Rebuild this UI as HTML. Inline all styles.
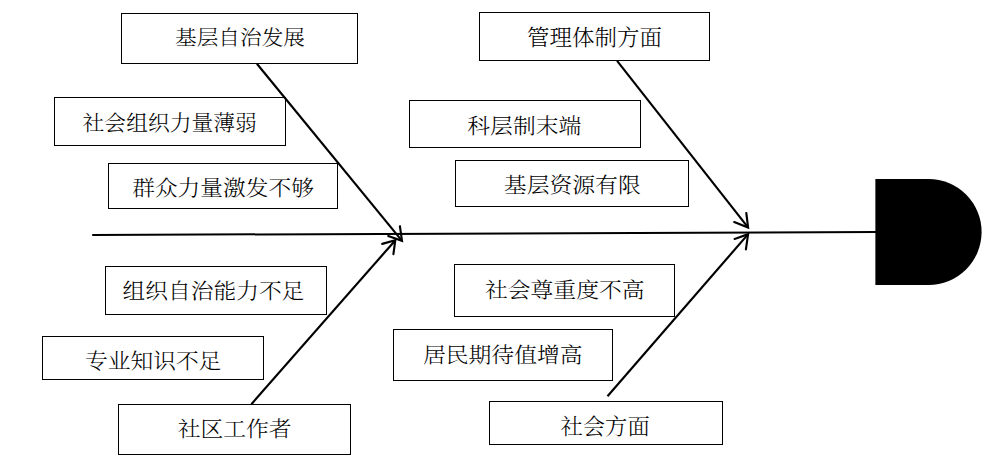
<!DOCTYPE html>
<html lang="zh-CN">
<head>
<meta charset="utf-8">
<title>鱼骨图</title>
<style>
html,body{margin:0;padding:0;background:#fff;}
body{width:995px;height:459px;overflow:hidden;}
svg{display:block;}
text{font-family:"Liberation Serif","Noto Serif CJK SC",serif;font-weight:300;fill:#000;}
</style>
</head>
<body>
<svg width="995" height="459" viewBox="0 0 995 459">
<rect x="0" y="0" width="995" height="459" fill="#fff"/>

<g fill="#fff" stroke="#000" stroke-width="1" shape-rendering="crispEdges">
<rect x="121.5" y="13.5" width="236" height="50"/>
<rect x="54.5" y="97.5" width="231" height="48"/>
<rect x="108.5" y="163.5" width="229" height="45"/>
<rect x="479.5" y="12.5" width="230" height="48"/>
<rect x="409.5" y="100.5" width="231" height="47"/>
<rect x="455.5" y="160.5" width="233" height="46"/>
<rect x="105.5" y="266.5" width="221" height="48"/>
<rect x="42.5" y="336.5" width="221" height="43"/>
<rect x="118.5" y="404.5" width="232" height="50"/>
<rect x="454.5" y="264.5" width="220" height="52"/>
<rect x="393.5" y="329.5" width="219" height="51"/>
<rect x="489.5" y="401.5" width="233" height="43"/>
</g>
<g stroke="#000" stroke-width="2.15" fill="none" stroke-linecap="butt" stroke-linejoin="miter">
<line x1="92.2" y1="235" x2="876" y2="232" stroke-width="2"/>
<line x1="256.9" y1="63.8" x2="401.2" y2="239.9"/>
<polyline points="399.9,226.2 402.0,240.8 388.2,236.0" stroke-linecap="round"/>
<line x1="251.4" y1="404.2" x2="394.5" y2="241.2"/>
<polyline points="382.2,243.9 395.3,240.3 393.4,254.1" stroke-linecap="round"/>
<line x1="617.1" y1="60.8" x2="747.4" y2="226.7"/>
<polyline points="746.3,213.0 748.1,227.6 734.2,222.1" stroke-linecap="round"/>
<line x1="607.5" y1="396.3" x2="747.3" y2="235.1"/>
<polyline points="734.6,238.9 748.1,234.2 745.9,249.4" stroke-linecap="round"/>
</g>
<path d="M875.4 179 H928.5 A53.1 53 0 0 1 928.5 285 H875.4 Z" fill="#000"/>
<text transform="translate(240.00 44.73) scale(1.016 0.965)" x="0" y="0" font-size="21.33" text-anchor="middle">基层自治发展</text>
<text transform="translate(169.70 129.62) scale(1.016 0.975)" x="0" y="0" font-size="21.45" text-anchor="middle">社会组织力量薄弱</text>
<text transform="translate(223.05 194.85) scale(1.016 0.935)" x="0" y="0" font-size="22.36" text-anchor="middle">群众力量激发不够</text>
<text transform="translate(594.55 45.12) scale(1.016 0.980)" x="0" y="0" font-size="22.15" text-anchor="middle">管理体制方面</text>
<text transform="translate(524.30 132.63) scale(1.016 0.935)" x="0" y="0" font-size="22.44" text-anchor="middle">科层制末端</text>
<text transform="translate(572.30 192.34) scale(1.016 0.935)" x="0" y="0" font-size="22.47" text-anchor="middle">基层资源有限</text>
<text transform="translate(213.45 298.15) scale(1.016 0.935)" x="0" y="0" font-size="22.37" text-anchor="middle">组织自治能力不足</text>
<text transform="translate(153.15 367.91) scale(1.016 0.935)" x="0" y="0" font-size="22.38" text-anchor="middle">专业知识不足</text>
<text transform="translate(234.65 435.94) scale(1.016 0.935)" x="0" y="0" font-size="22.46" text-anchor="middle">社区工作者</text>
<text transform="translate(564.75 296.98) scale(1.016 0.935)" x="0" y="0" font-size="22.44" text-anchor="middle">社会尊重度不高</text>
<text transform="translate(502.75 361.73) scale(1.016 0.935)" x="0" y="0" font-size="22.44" text-anchor="middle">居民期待值增高</text>
<text transform="translate(605.10 433.70) scale(1.016 0.960)" x="0" y="0" font-size="21.95" text-anchor="middle">社会方面</text>
</svg>
</body>
</html>
